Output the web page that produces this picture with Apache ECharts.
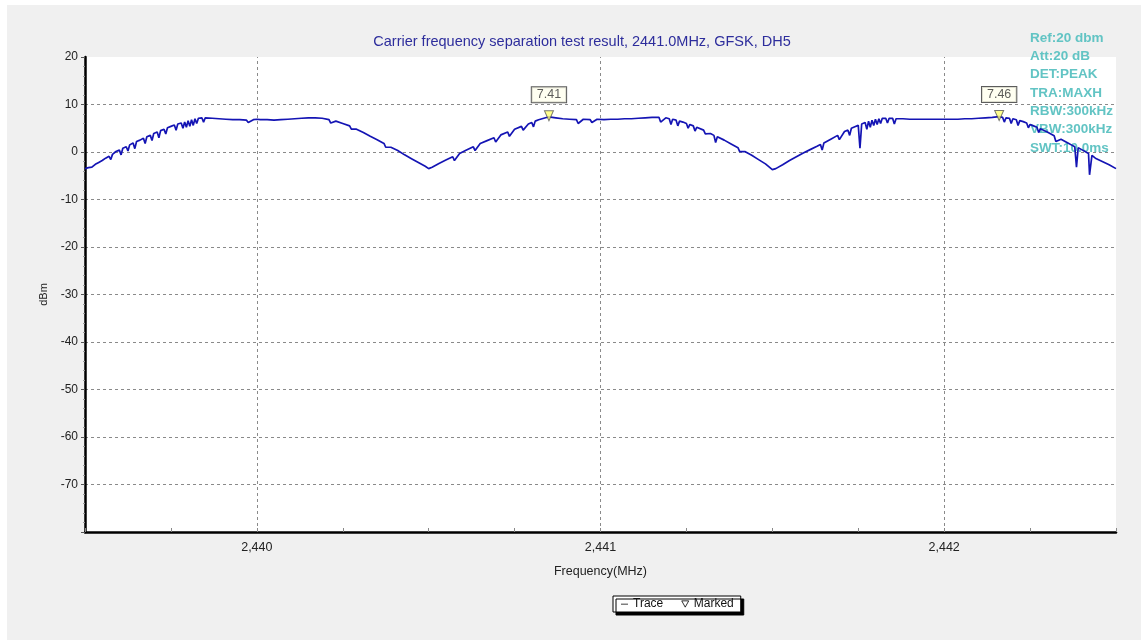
<!DOCTYPE html>
<html>
<head>
<meta charset="utf-8">
<script src="https://cdn.jsdelivr.net/npm/echarts@6/dist/echarts.min.js"></script>
<style>
html,body{margin:0;padding:0;background:#fff;}
#chart{width:1147px;height:643px;}
</style>
</head>
<body>
<div id="chart"></div>
<script>
var titleText = 'Carrier frequency separation test result, 2441.0MHz, GFSK, DH5';
var infoLines = ['Ref:20 dbm','Att:20 dB','DET:PEAK','TRA:MAXH','RBW:300kHz','VBW:300kHz','SWT:10.0ms'];
var gridFreqs = [2440, 2441, 2442];
var markerFreq = [2440.85, 2442.16];
var markerLevel = [7.41, 7.46];
var trace = [
[2439.50,-3.5],[2439.51,-3.3],[2439.52,-3.2],[2439.53,-2.6],[2439.54,-2.2],[2439.55,-1.8],[2439.56,-1.3],[2439.57,-0.9],[2439.575,-1.6],[2439.58,-0.5],
[2439.59,0.1],[2439.60,0.4],[2439.605,-0.6],[2439.61,0.8],[2439.62,1.1],[2439.625,0.2],[2439.63,1.5],[2439.64,1.9],[2439.645,0.7],[2439.65,2.2],
[2439.66,2.5],[2439.67,2.9],[2439.675,1.8],[2439.68,3.2],[2439.69,3.5],[2439.695,2.4],[2439.70,3.9],[2439.71,4.2],[2439.715,3.0],[2439.72,4.5],
[2439.73,4.8],[2439.735,3.8],[2439.74,5.1],[2439.75,5.4],[2439.76,5.7],[2439.765,4.6],[2439.77,5.9],[2439.78,6.1],[2439.785,5.0],[2439.79,6.3],
[2439.795,5.2],[2439.80,6.6],[2439.805,5.4],[2439.81,6.8],[2439.815,5.6],[2439.82,7.0],[2439.825,6.0],[2439.83,7.1],[2439.84,7.2],[2439.845,6.3],
[2439.85,7.2],[2439.87,7.1],[2439.89,7.0],[2439.91,6.9],[2439.93,6.8],[2439.95,6.8],[2439.97,6.7],[2439.975,6.2],[2439.99,6.8],[2440.00,6.9],
[2440.01,6.8],[2440.03,6.8],[2440.05,6.7],[2440.07,6.8],[2440.09,6.9],[2440.11,7.0],[2440.13,7.1],[2440.15,7.2],[2440.17,7.2],[2440.19,7.1],
[2440.21,6.8],[2440.215,6.1],[2440.23,6.5],[2440.25,6.0],[2440.27,5.5],[2440.275,4.8],[2440.29,4.8],[2440.31,4.1],[2440.33,3.3],[2440.35,2.6],
[2440.37,1.8],[2440.375,1.0],[2440.39,1.0],[2440.41,0.3],[2440.43,-0.6],[2440.45,-1.4],[2440.47,-2.2],[2440.49,-3.0],[2440.50,-3.5],
[2440.51,-3.2],[2440.53,-2.4],[2440.55,-1.7],[2440.57,-1.0],[2440.575,-1.8],[2440.59,-0.3],[2440.61,0.4],[2440.63,1.1],[2440.635,0.3],[2440.65,1.8],
[2440.67,2.4],[2440.69,3.0],[2440.695,2.1],[2440.71,3.6],[2440.73,4.2],[2440.735,3.3],[2440.75,4.8],[2440.77,5.4],[2440.775,4.6],[2440.79,5.9],
[2440.80,6.2],[2440.805,5.3],[2440.81,6.5],[2440.82,6.8],[2440.83,7.0],[2440.84,7.2],[2440.85,7.4],[2440.87,7.2],[2440.89,7.0],[2440.91,6.9],
[2440.93,6.8],[2440.935,6.0],[2440.95,6.9],[2440.97,6.8],[2440.975,6.2],[2440.99,6.9],[2441.01,6.8],[2441.03,6.9],[2441.05,6.9],[2441.07,7.0],
[2441.09,7.0],[2441.11,7.1],[2441.13,7.2],[2441.15,7.3],[2441.17,7.3],[2441.175,6.3],[2441.19,7.2],[2441.20,7.0],[2441.205,5.8],[2441.21,6.9],
[2441.22,6.7],[2441.225,5.5],[2441.23,6.5],[2441.24,6.3],[2441.25,6.0],[2441.255,5.0],[2441.26,5.8],[2441.27,5.5],[2441.275,4.4],[2441.28,5.2],
[2441.30,4.6],[2441.305,3.8],[2441.32,3.9],[2441.33,3.5],[2441.335,2.0],[2441.34,3.2],[2441.36,2.5],[2441.38,1.7],[2441.40,0.9],[2441.405,0.1],
[2441.42,0.1],[2441.44,-0.7],[2441.46,-1.6],[2441.48,-2.5],[2441.50,-3.7],
[2441.51,-3.5],[2441.53,-2.7],[2441.55,-1.8],[2441.57,-1.0],[2441.59,-0.2],[2441.61,0.5],[2441.63,1.2],[2441.64,1.6],[2441.645,0.4],[2441.65,1.9],
[2441.67,2.7],[2441.69,3.5],[2441.695,2.6],[2441.71,4.3],[2441.72,4.6],[2441.725,3.5],[2441.73,5.0],[2441.74,5.3],[2441.75,5.6],[2441.755,0.8],
[2441.76,5.9],[2441.77,6.2],[2441.775,4.8],[2441.78,6.5],[2441.785,5.2],[2441.79,6.7],[2441.795,5.6],[2441.80,6.9],[2441.805,5.8],[2441.81,7.0],
[2441.815,6.0],[2441.82,7.1],[2441.83,7.1],[2441.835,6.1],[2441.84,7.1],[2441.85,7.1],[2441.855,5.9],[2441.86,7.0],[2441.88,7.0],[2441.90,6.9],
[2441.92,6.9],[2441.94,6.9],[2441.96,6.9],[2441.98,6.9],[2442.00,6.9],[2442.02,6.9],[2442.04,6.9],[2442.06,7.0],[2442.08,7.0],[2442.10,7.1],
[2442.12,7.2],[2442.14,7.3],[2442.16,7.46],[2442.17,7.3],[2442.175,6.3],[2442.18,7.2],[2442.19,7.1],[2442.195,6.0],[2442.20,7.0],[2442.21,6.8],
[2442.215,5.6],[2442.22,6.6],[2442.23,6.4],[2442.24,6.1],[2442.245,5.1],[2442.25,5.8],[2442.26,5.5],[2442.27,5.2],[2442.275,4.1],[2442.28,4.9],
[2442.30,4.2],[2442.32,3.4],[2442.325,2.2],[2442.34,2.7],[2442.36,1.9],[2442.37,1.5],[2442.38,1.1],[2442.385,-3.2],[2442.39,0.9],[2442.40,0.5],
[2442.41,0.1],[2442.42,-0.3],[2442.423,-4.8],[2442.43,-0.7],[2442.44,-1.3],[2442.46,-2.0],[2442.48,-2.7],[2442.50,-3.5]
];

var chart = echarts.init(document.getElementById('chart'), null, {renderer:'canvas'});
var FONT = 'Liberation Sans, Arial, sans-serif';

var markerData = markerFreq.map(function(f, i){ return [f, markerLevel[i]]; });
var ySplitColors = [];
for (var k = 0; k <= 10; k++) ySplitColors.push((k === 0 || k === 10) ? 'rgba(0,0,0,0)' : '#8a8a8a');

var option = {
  backgroundColor: '#ffffff',
  animation: false,
  title: {
    text: titleText,
    left: 577, top: 29, textAlign: 'center',
    textStyle: {fontFamily: FONT, fontSize: 14.5, fontWeight: 'normal', color: '#2d2d9c'}
  },
  graphic: [
    {type:'rect', z:-100, shape:{x:7, y:5, width:1134, height:635}, style:{fill:'#f0f0f0'}, silent:true},
    {type:'text', z:1, left:1030, top:29, style:{text: infoLines.join('\n'), fill:'#62c4c4', font:'bold 13.5px Liberation Sans, Arial, sans-serif', lineHeight:18.3}, silent:true}
  ],
  legend: {
    data: [
      {name:'Trace', icon:'path://M0,0H0.01V0.01H0Z M0,4.5H10V5.6H0Z M0,9.99H0.01V10H0Z', itemStyle:{color:'#000'}},
      {name:'Marked', icon:'path://M0,0L10,0L5,9Z', itemStyle:{color:'#fff', borderColor:'#000', borderWidth:1}}
    ],
    left: 613, top: 596,
    padding: [2, 7, 2, 8],
    itemWidth: 7, itemHeight: 8, itemGap: 18,
    backgroundColor: '#ffffff', borderColor: '#000', borderWidth: 1,
    shadowColor: '#000', shadowOffsetX: 3, shadowOffsetY: 3, shadowBlur: 0,
    textStyle: {fontFamily: FONT, fontSize: 12, color: '#111', padding:[1,0,0,0]},
    selectedMode: false
  },
  grid: {
    left: 85, top: 57, right: 31, bottom: 111,
    show: true, backgroundColor: '#ffffff', borderWidth: 0
  },
  xAxis: {
    type: 'value', min: 2439.5, max: 2442.5, interval: 0.25,
    name: 'Frequency(MHz)', nameLocation: 'middle', nameGap: 33,
    nameTextStyle: {fontFamily: FONT, fontSize: 12.5, color: '#222'},
    axisLine: {show: true, onZero: false, lineStyle: {color: '#000', width: 2.5}},
    axisTick: {show: true, inside: true, length: 4, lineStyle: {color: '#888'}},
    axisLabel: {
      margin: 9, fontFamily: FONT, fontSize: 12.5, color: '#222',
      formatter: function(v){
        if (Math.abs(v - Math.round(v)) > 1e-6) return '';
        var s = String(Math.round(v));
        return s.replace(/\B(?=(\d{3})+(?!\d))/g, ',');
      }
    },
    splitLine: {show: false}
  },
  yAxis: {
    type: 'value', min: -80, max: 20, interval: 10,
    name: 'dBm', nameLocation: 'middle', nameGap: 32, nameRotate: 90,
    nameTextStyle: {fontFamily: FONT, fontSize: 11, color: '#222'},
    axisLine: {show: true, onZero: false, lineStyle: {color: '#000', width: 2.5}},
    axisTick: {show: true, length: 4, lineStyle: {color: '#555'}},
    minorTick: {show: true, splitNumber: 5, length: 2, lineStyle: {color: '#999'}},
    axisLabel: {
      margin: 7, fontFamily: FONT, fontSize: 12, color: '#222',
      formatter: function(v){ return v <= -80 ? '' : String(v); }
    },
    splitLine: {show: true, lineStyle: {color: ySplitColors, type: [3, 3], width: 1}}
  },
  series: [
    {
      name: 'Trace', type: 'line', data: trace, showSymbol: false, symbol: 'none',
      lineStyle: {color: '#1414b4', width: 1.7}, itemStyle: {color: '#000'},
      z: 3,
      markLine: {
        silent: true, symbol: ['none','none'], label: {show: false},
        lineStyle: {color: '#8a8a8a', type: [3, 3], width: 1},
        data: gridFreqs.map(function(f){ return {xAxis: f}; }),
        z: 1
      }
    },
    {
      name: 'Marked', type: 'scatter', data: markerData, z: 5,
      symbol: 'path://M0,0L10,0L5,10Z', symbolSize: [9, 10], symbolOffset: [0, -1],
      itemStyle: {color: '#ffff70', borderColor: '#555', borderWidth: 1},
      label: {
        show: true, position: 'top', distance: 8,
        formatter: function(p){ return p.value[1].toFixed(2); },
        fontFamily: FONT, fontSize: 12.5, color: '#333',
        backgroundColor: '#ffffee', borderColor: '#333', borderWidth: 1,
        padding: [1, 5, 1, 5], lineHeight: 13
      }
    }
  ]
};
chart.setOption(option);
</script>
</body>
</html>
